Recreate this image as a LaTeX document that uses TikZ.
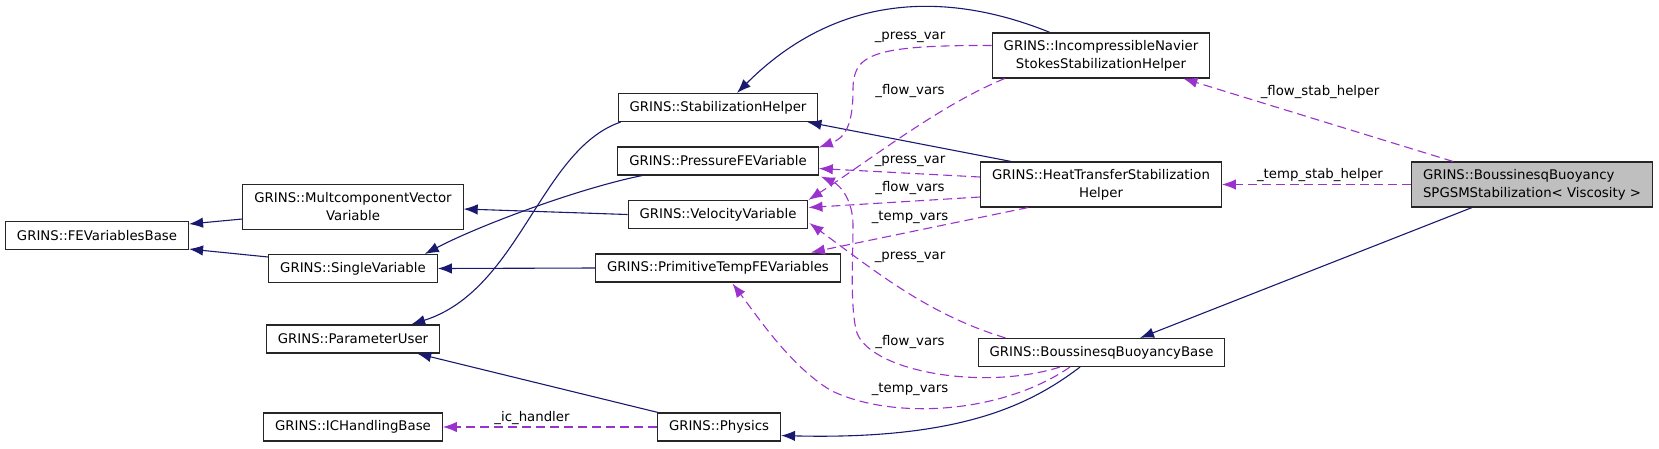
\documentclass[tikz,border=0pt]{standalone}
\usepackage{fontspec}
\setmainfont{DejaVu Sans}
\usepackage{xcolor}
\usepackage{tikz}
\usetikzlibrary{arrows.meta,positioning}

\definecolor{edgeblue}{HTML}{191970}
\definecolor{usepurple}{HTML}{9A32CD}
\definecolor{nodegray}{HTML}{BFBFBF}

\begin{document}
\begin{tikzpicture}[x=1pt, y=-1pt, node distance=53.5pt,
  classbox/.style={rectangle, draw=black!85, line width=1.1pt, inner xsep=11.5pt, inner ysep=2pt, minimum height=28pt, font=\fontsize{13.3}{18}\selectfont},
  twoline/.style={classbox, minimum height=45pt, align=center},
  lbl/.style={inner sep=0pt, font=\fontsize{13.3}{16}\selectfont},
  inherit/.style={draw=edgeblue, line width=1.1pt, -{Latex[length=14pt,width=10.5pt]}},
  uses/.style={draw=usepurple, line width=1.1pt, dash pattern=on 9pt off 5pt, -{Latex[length=14pt,width=10.5pt]}}]

  \useasboundingbox (0,0) rectangle (1659,448);

  % classes
  \node [classbox] (fevar) at (97,235.5) {GRINS::FEVariablesBase};
  \node [twoline] (mcv) at (353,207) {GRINS::MultcomponentVector\\Variable};
  \node [classbox] (single) at (353,268.5) {GRINS::SingleVariable};
  \node [classbox] (param) at (353,339) {GRINS::ParameterUser};
  \node [classbox] (ich) at (353,427) {GRINS::ICHandlingBase};
  \node [classbox] (stab) at (718,107.5) {GRINS::StabilizationHelper};
  \node [classbox, below of=stab] (pressure) {GRINS::PressureFEVariable};
  \node [classbox, below of=pressure] (velocity) {GRINS::VelocityVariable};
  \node [classbox, below of=velocity] (primtemp) {GRINS::PrimitiveTempFEVariables};
  \node [classbox] (physics) at (719,427) {GRINS::Physics};
  \node [twoline] (incomp) at (1101,55.5) {GRINS::IncompressibleNavier\\StokesStabilizationHelper};
  \node [twoline] (heat) at (1101,184.5) {GRINS::HeatTransferStabilization\\Helper};
  \node [classbox] (bbb) at (1101.5,352.5) {GRINS::BoussinesqBuoyancyBase};
  \node [twoline, fill=nodegray, align=left] (spgsm) at (1532,184.5) {GRINS::BoussinesqBuoyancy\\SPGSMStabilization< Viscosity >};

  % inheritance
  \draw [inherit] ([yshift=-12pt]mcv.west) -- ([yshift=11.5pt]fevar.east);
  \draw [inherit] ([yshift=11.5pt]single.west) -- ([yshift=1pt]fevar.south east);
  \draw [inherit] (velocity.west) -- ([yshift=-2pt]mcv.east);
  \draw [inherit] ([xshift=25pt]pressure.south west) .. controls (580,188) and (480,225) .. ([xshift=-13pt]single.north east);
  \draw [inherit] (primtemp.west) -- (single.east);
  \draw [inherit] ([xshift=3pt]stab.south west) .. controls (540,150) and (520,290) .. ([xshift=-29pt]param.north east);
  \draw [inherit] ([xshift=1pt]physics.north west) -- ([xshift=-23pt]param.south east);
  \draw [inherit] ([xshift=-51pt]incomp.north) .. controls (970,0) and (850,-20) .. ([xshift=19pt]stab.north);
  \draw [inherit] ([xshift=31pt]heat.north west) -- ([xshift=-11pt]stab.south east);
  \draw [inherit] ([xshift=-21.5pt]bbb.south) .. controls (1030,405) and (960,440) .. ([yshift=6pt]physics.south east);
  \draw [inherit] ([xshift=-60pt]spgsm.south) -- ([xshift=38.5pt]bbb.north);

  % members
  \draw [uses] (physics.west) -- (ich.east);
  \draw [uses] ([xshift=-79pt]spgsm.north) -- ([xshift=-27pt]incomp.south east);
  \draw [uses] (spgsm.west) -- (heat.east);
  \draw [uses] ([yshift=10pt]incomp.west) .. controls (870,45) and (853,55) .. (853,90)
    .. controls (853,125) and (845,138) .. ([yshift=-1pt]pressure.north east);
  \draw [uses] ([xshift=13pt]incomp.south west) .. controls (940,105) and (870,160) .. (velocity.north east);
  \draw [uses] ([yshift=7.5pt]heat.west) -- ([yshift=-7.5pt]pressure.east);
  \draw [uses] ([yshift=-12.5pt]heat.west) -- ([yshift=7pt]velocity.east);
  \draw [uses] ([xshift=48pt]heat.south west) -- ([xshift=-30pt,yshift=1pt]primtemp.north east);
  \draw [uses] ([xshift=-41.5pt]bbb.south) .. controls (980,392) and (866,370) .. (856,330)
    .. controls (850,300) and (853,260) .. (853,225)
    .. controls (853,200) and (840,185) .. ([xshift=2pt,yshift=-1pt]pressure.south east);
  \draw [uses] ([xshift=28pt]bbb.north west) .. controls (930,315) and (880,275) .. ([xshift=1pt,yshift=6pt]velocity.south east);
  \draw [uses] ([xshift=-31.5pt]bbb.south) .. controls (1000,415) and (890,420) .. (830,390)
    .. controls (790,365) and (760,320) .. ([xshift=14.5pt,yshift=-1pt]primtemp.south);

  % member names
  \node [lbl] (lpress1) at (910,37) {\_press\_var};
  \node [lbl] (lflow1) at (910,91) {\_flow\_vars};
  \node [lbl] (lpress2) at (910,161) {\_press\_var};
  \node [lbl] (lflow2) at (910,188) {\_flow\_vars};
  \node [lbl] (ltemp1) at (910,217) {\_temp\_vars};
  \node [lbl] (lpress3) at (910,257) {\_press\_var};
  \node [lbl] (lflow3) at (910,342) {\_flow\_vars};
  \node [lbl] (ltemp2) at (910,389) {\_temp\_vars};
  \node [lbl] (lic) at (532,418) {\_ic\_handler};
  \node [lbl] (lflowstab) at (1320,92) {\_flow\_stab\_helper};
  \node [lbl] (ltempstab) at (1320,175) {\_temp\_stab\_helper};
\end{tikzpicture}
\end{document}
